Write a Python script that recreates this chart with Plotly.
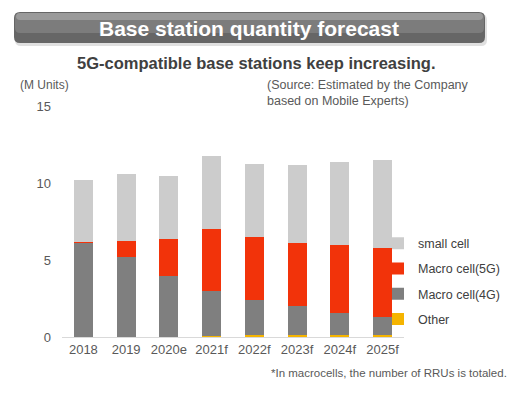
import plotly.graph_objects as go

years = ["2018", "2019", "2020e", "2021f", "2022f", "2023f", "2024f", "2025f"]
other = [0, 0, 0, 0.08, 0.1, 0.1, 0.12, 0.15]
macro_4g = [6.13, 5.18, 3.96, 2.92, 2.29, 1.90, 1.45, 1.12]
macro_5g = [0.05, 1.06, 2.39, 4.04, 4.13, 4.09, 4.41, 4.52]
small_cell = [3.99, 4.37, 4.13, 4.70, 4.74, 5.09, 5.37, 5.73]
y_ticks = [0, 5, 10, 15]

W, H = 521, 398
L, R, T, B = 62, 404, 106, 337
FONT = "Arial, Liberation Sans, sans-serif"


def px(x):
    return (x - L) / (R - L)


def py(y):
    return (B - y) / (B - T)


fig = go.Figure()
series = [
    ("Other", other, "#f5b400", 4),
    ("Macro cell(4G)", macro_4g, "#7f7f7f", 3),
    ("Macro cell(5G)", macro_5g, "#f2330a", 2),
    ("small cell", small_cell, "#cccccc", 1),
]
for name, vals, col, rank in series:
    fig.add_trace(go.Bar(x=years, y=vals, name=name, marker_color=col,
                         marker_line_width=0, legendgroup=name, legendrank=rank))

shapes = []


def rrect(x0, y0, x1, y1, r, color, opacity=1.0):
    X0, X1 = px(x0), px(x1)
    Y0, Y1 = py(y0), py(y1)
    rx = r / (R - L)
    ry = r / (B - T)
    path = (f"M{X0+rx},{Y0} L{X1-rx},{Y0} Q{X1},{Y0} {X1},{Y0-ry} "
            f"L{X1},{Y1+ry} Q{X1},{Y1} {X1-rx},{Y1} L{X0+rx},{Y1} "
            f"Q{X0},{Y1} {X0},{Y1+ry} L{X0},{Y0-ry} Q{X0},{Y0} {X0+rx},{Y0} Z")
    return dict(type="path", xref="paper", yref="paper", path=path,
                fillcolor=color, line_width=0, opacity=opacity, layer="below")


shapes.append(rrect(15, 14, 487, 46, 6, "#d8d8d8", 0.8))
shapes.append(rrect(14, 12, 485, 43, 6, "#666666"))
shapes.append(rrect(15, 13, 484, 33, 5, "#7c7c7c"))
shapes.append(rrect(16, 13, 483, 20, 4, "#9a9a9a"))

annotations = [
    dict(text="<b>Base station quantity forecast</b>", x=px(249), y=py(28),
         font=dict(size=21, color="white", family=FONT)),
    dict(text="<b>5G-compatible base stations keep increasing.</b>", x=px(256), y=py(63),
         font=dict(size=16.5, color="#404040", family=FONT)),
    dict(text="(M Units)", x=px(18), y=py(85), xanchor="left",
         font=dict(size=12, color="#595959", family=FONT)),
    dict(text="(Source: Estimated by the Company<br>based on Mobile Experts)",
         x=px(265), y=py(93), xanchor="left", align="left",
         font=dict(size=12.5, color="#595959", family=FONT)),
    dict(text="*In macrocells, the number of RRUs is totaled.", x=px(509), y=py(373),
         xanchor="right", font=dict(size=11.5, color="#595959", family=FONT)),
]
for a in annotations:
    a.setdefault("xanchor", "center")
    a.update(xref="paper", yref="paper", showarrow=False, yanchor="middle")

fig.update_layout(
    width=W, height=H,
    margin=dict(l=L, r=W - R, t=T, b=H - B, pad=0),
    paper_bgcolor="white", plot_bgcolor="white",
    barmode="stack", bargap=0.55,
    font=dict(family=FONT, color="#595959"),
    legend=dict(x=px(378), y=py(281), xanchor="left", yanchor="middle",
                traceorder="grouped", tracegroupgap=6,
                font=dict(size=12.5, color="#404040"), bgcolor="rgba(0,0,0,0)"),
    shapes=shapes, annotations=annotations,
)
fig.update_xaxes(showline=True, linecolor="#d9d9d9", linewidth=1, showgrid=False,
                 ticks="", tickfont=dict(size=13, color="#595959"))
fig.update_yaxes(range=[0, 15], tickvals=y_ticks, showgrid=False, zeroline=False,
                 showline=False, ticks="", ticklabelstandoff=10,
                 tickfont=dict(size=13, color="#595959"))

fig.write_html("out.html", config={"displayModeBar": False},
               post_script="document.body.style.margin='0';")
